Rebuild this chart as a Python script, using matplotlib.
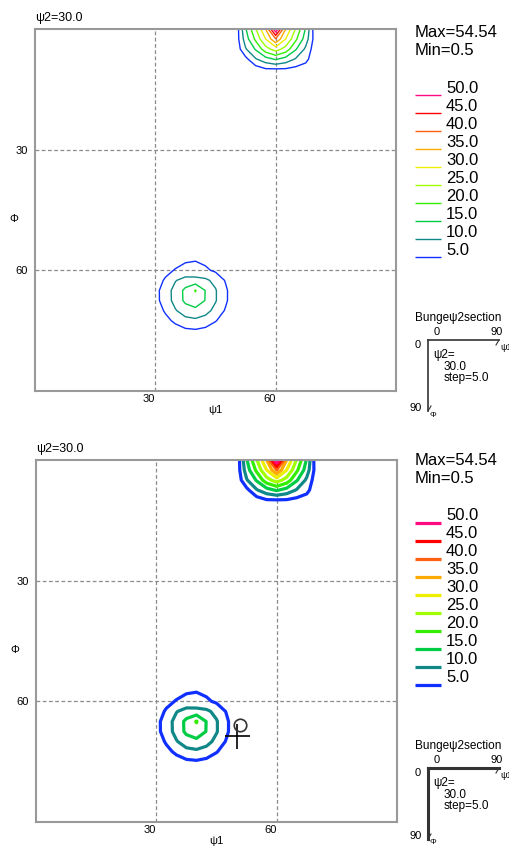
import numpy as np
import matplotlib.pyplot as plt

plt.rcParams['font.family'] = ['Liberation Sans', 'DejaVu Sans']

# section psi2 = 30, grid step 2.5 deg over psi1 / Phi in 0..90
psi2 = 30.0
step = 5.0
f_min = 0.5
grid = np.arange(0, 90.1, 2.5)

# peak at the top edge (psi1 ~ 60, Phi ~ 0)
peak_a_psi1 = [47.5, 50, 52.5, 55, 57.5, 60, 62.5, 65, 67.5, 70, 72.5]
peak_a_phi = [0, 2.5, 5, 7.5, 10, 12.5]
peak_a = [
    [0.5, 1.0, 14.5, 24.6, 35.0, 54.54, 35.0, 24.6, 14.5, 1.0, 0.5],
    [0.5, 1.5, 12.5, 21.0, 30.0, 39.5, 30.0, 21.0, 12.5, 2.0, 0.5],
    [0.5, 1.0, 9.5, 15.5, 23.0, 27.3, 23.0, 15.5, 9.0, 1.5, 0.5],
    [0.5, 0.5, 3.5, 9.5, 13.0, 15.5, 13.0, 9.5, 6.5, 1.0, 0.5],
    [0.5, 0.5, 0.5, 2.5, 4.5, 4.6, 4.5, 3.5, 2.5, 0.5, 0.5],
    [0.5, 0.5, 0.5, 0.5, 0.5, 0.5, 0.5, 0.5, 0.5, 0.5, 0.5],
]

# second peak (psi1 ~ 40, Phi ~ 66)
peak_b_psi1 = [27.5, 30, 32.5, 35, 37.5, 40, 42.5, 45, 47.5, 50, 52.5]
peak_b_phi = [57.5, 60, 62.5, 65, 67.5, 70, 72.5, 75]
peak_b = [
    [0.5, 0.5, 0.5, 2.5, 4.6, 4.9, 4.0, 1.8, 0.5, 0.5, 0.5],
    [0.5, 0.5, 3.0, 5.5, 6.2, 6.0, 5.8, 4.2, 2.0, 0.5, 0.5],
    [0.5, 1.7, 5.9, 9.7, 12.0, 12.0, 11.0, 8.6, 4.6, 0.5, 0.5],
    [0.5, 3.4, 7.4, 11.9, 16.2, 20.3, 14.8, 10.4, 5.9, 1.4, 0.5],
    [0.5, 3.4, 7.3, 11.8, 16.1, 18.1, 14.8, 10.4, 5.9, 1.3, 0.5],
    [0.5, 1.6, 5.8, 9.6, 12.6, 13.6, 11.8, 8.5, 4.5, 0.5, 0.5],
    [0.5, 0.5, 3.2, 6.3, 8.4, 9.0, 7.9, 5.4, 2.0, 0.5, 0.5],
    [0.5, 0.5, 0.5, 2.3, 4.0, 4.4, 3.6, 1.6, 0.5, 0.5, 0.5],
]

levels = [5.0, 10.0, 15.0, 20.0, 25.0, 30.0, 35.0, 40.0, 45.0, 50.0]
colors = ['#1030ff', '#108888', '#00cc44', '#33ee00', '#a0ff00',
          '#eeee00', '#ffaa00', '#ff6010', '#ff0000', '#ff0a80']

# ideal orientation marker (lower panel)
mark_psi1 = [50.0]
mark_phi = [68.5]
ring_psi1 = [50.8]
ring_phi = [66.0]

Z = np.full((grid.size, grid.size), f_min)
for p_psi1, p_phi, vals in [(peak_a_psi1, peak_a_phi, peak_a),
                            (peak_b_psi1, peak_b_phi, peak_b)]:
    r = np.searchsorted(grid, p_phi)
    c = np.searchsorted(grid, p_psi1)
    Z[np.ix_(r, c)] = np.array(vals)
X, Y = np.meshgrid(grid, grid)

fig = plt.figure(figsize=(5.10, 8.49), dpi=100)
W, H = 510.0, 849.0


def panel(left, top, lw, show_mark):
    ax = fig.add_axes([left / W, 1 - (top + 362) / H, 361 / W, 362 / H])
    ax.contour(X, Y, Z, levels=levels, colors=colors, linewidths=lw)
    ax.set_xlim(0, 90)
    ax.set_ylim(90, 0)
    ax.set_xticks([30, 60])
    ax.set_yticks([30, 60])
    ax.grid(True, color='#8a8a8a', linestyle=(0, (3, 2)), linewidth=0.9)
    ax.tick_params(length=0, labelsize=8, pad=2)
    ax.tick_params(axis='y', pad=5)
    for lab in ax.get_xticklabels():
        lab.set_ha('right')
    for s in ax.spines.values():
        s.set_color('#999999')
        s.set_linewidth(1.5)
    ax.set_xlabel('ψ1', fontsize=8, labelpad=1)
    ax.set_ylabel('Φ', fontsize=8, rotation=0)
    ax.yaxis.set_label_coords(-0.058, 0.46)
    ax.set_title('ψ2=%.1f' % psi2, loc='left', fontsize=9, pad=6)
    if show_mark:
        ax.plot(mark_psi1, mark_phi, marker='+', color='black', ms=18, mew=1.2)
        ax.plot(ring_psi1, ring_phi, marker='o', mfc='none', mec='#333333',
                ms=9, mew=1.2)
    return ax


panel(35, 29, 1.0, False)
panel(36, 460, 2.3, True)

ov = fig.add_axes([0, 0, 1, 1])
ov.set_xlim(0, W)
ov.set_ylim(H, 0)
ov.axis('off')


def side(dy, lw, blw):
    ov.text(415, 32 + dy, 'Max=%.2f' % Z.max(), fontsize=12, va='center')
    ov.text(415, 50 + dy, 'Min=%g' % Z.min(), fontsize=12, va='center')
    for i, (lv, col) in enumerate(zip(levels[::-1], colors[::-1])):
        y = 95 + dy + 18 * i
        ov.plot([415, 441], [y, y], color=col, lw=lw, solid_capstyle='butt')
        ov.text(446, y - 7, '%.1f' % lv, fontsize=12, va='center')
    ov.text(415, 318 + dy, 'Bungeψ2section', fontsize=8.5, va='center')
    ov.text(437, 332 + dy, '0', fontsize=8, va='center', ha='center')
    ov.text(497, 332 + dy, '90', fontsize=8, va='center', ha='center')
    ov.text(418, 345 + dy, '0', fontsize=8, va='center', ha='center')
    ov.text(416, 408 + dy, '90', fontsize=8, va='center', ha='center')
    ov.plot([428, 499], [340 + dy, 340 + dy], color='#333333', lw=blw)
    ov.plot([428, 428], [340 + dy, 411 + dy], color='#333333', lw=blw)
    ov.plot([499, 496], [340 + dy, 345 + dy], color='#333333', lw=0.8)
    ov.plot([428, 431], [411 + dy, 406 + dy], color='#333333', lw=0.8)
    ov.text(500, 347 + dy, 'ψ1', fontsize=6.5, va='center')
    ov.text(430, 415 + dy, 'Φ', fontsize=6, va='center')
    ov.text(433, 355 + dy, 'ψ2=', fontsize=8.5, va='center')
    ov.text(444, 367 + dy, '%.1f' % psi2, fontsize=8.5, va='center')
    ov.text(444, 378 + dy, 'step=%.1f' % step, fontsize=8.5, va='center')


side(0, 1.0, 1.2)
side(428, 2.3, 2.2)

fig.savefig('out.png', dpi=100)
